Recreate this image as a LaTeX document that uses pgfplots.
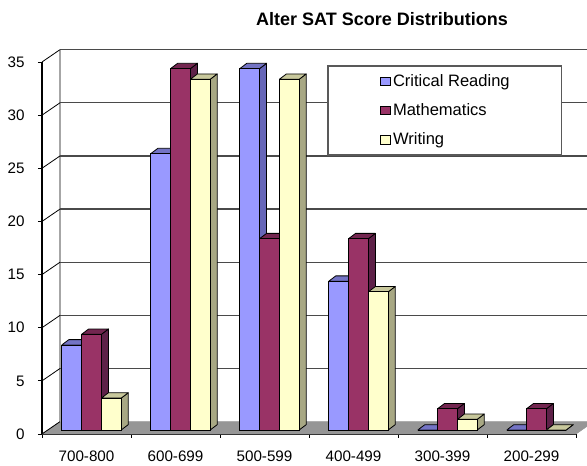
\documentclass[border=0pt]{standalone}
\usepackage{pgfplots}
\usepackage{pgfplotstable}
\pgfplotsset{compat=1.18}
\usepackage{fontspec}
\setmainfont{Liberation Sans}
\definecolor{cblue}{HTML}{9999FF}\definecolor{cblueT}{HTML}{7373C4}\definecolor{cblueS}{HTML}{6666B8}
\definecolor{cmath}{HTML}{993366}\definecolor{cmathT}{HTML}{732650}\definecolor{cmathS}{HTML}{5E2148}
\definecolor{cwrit}{HTML}{FFFFCC}\definecolor{cwritT}{HTML}{C8C89C}\definecolor{cwritS}{HTML}{A8A884}
\definecolor{cfloor}{HTML}{969696}\definecolor{cgrid}{HTML}{4A4A4A}
\pgfplotstableread{
x crit math writ
0 8 9 3
1 26 34 33
2 34 18 33
3 14 18 13
4 0 2 1
5 0 2 0
}\scores
% side and top faces of one bar: centre x, value, side colour, top colour
\newcommand\depth[4]{%
  \pgfmathsetmacro\xa{#1-0.1112}\pgfmathsetmacro\xb{#1+0.1112}%
  \pgfmathsetmacro\xc{#1+0.1112+0.0787}\pgfmathsetmacro\xd{#1-0.1112+0.0787}%
  \pgfmathsetmacro\yt{#2+0.5}%
  \edef\dotmp{\noexpand\addplot[fill=#3,draw=black,line width=0.6pt,line join=round,forget plot] coordinates {(\xb,0) (\xc,0.5) (\xc,\yt) (\xb,#2) (\xb,0)};
  \noexpand\addplot[fill=#4,draw=black,line width=0.6pt,line join=round,forget plot] coordinates {(\xa,#2) (\xb,#2) (\xc,\yt) (\xd,\yt) (\xa,#2)};}%
  \dotmp}
\begin{document}
\begin{tikzpicture}[x=1pt,y=1pt]
\path[use as bounding box] (0,0) rectangle (440.25,349.5);
\clip (0,0) rectangle (440.25,349.5);
\begin{axis}[
  at={(31.5pt,24pt)},anchor=south west,
  scale only axis,width=400.5pt,height=279pt,
  xmin=-0.5,xmax=5.5,ymin=0,ymax=35,clip=false,
  axis lines=left,axis line style={-,black,line width=0.9pt},
  xtick={0,1,2,3,4,5},
  xticklabels={700-800,600-699,500-599,400-499,300-399,200-299},
  minor xtick={-0.5,0.5,1.5,2.5,3.5,4.5,5.5},
  ytick={0,5,10,15,20,25,30,35},
  tick align=outside,major tick length=3pt,minor tick length=3pt,
  major x tick style={draw=none},minor x tick style={black,line width=0.6pt},
  y tick style={black,line width=0.6pt},
  tick label style={font=\fontsize{11.4}{13}\selectfont},
  /pgf/number format/assume math mode=true,
  xticklabel style={yshift=-6.3pt},
  yticklabel style={xshift=-6.5pt},
  title={\fontsize{13.5}{16}\selectfont\bfseries Alter SAT Score Distributions},
  title style={at={(0.6367,1.094)},anchor=center},
]
\addplot[fill=cfloor,draw=cfloor,forget plot] coordinates {(-0.5,0) (-0.298,1.16) (5.7,1.16) (5.5,0) (-0.5,0)};
\addplot[color=gray!70,line width=0.9pt,forget plot] coordinates {(-0.298,1.16) (-0.298,36.16)};
\addplot[color=cgrid,line width=0.9pt,forget plot] coordinates {(-0.298,6.16) (5.7,6.16)};
\addplot[color=cgrid,line width=0.9pt,forget plot] coordinates {(-0.298,11.16) (5.7,11.16)};
\addplot[color=cgrid,line width=0.9pt,forget plot] coordinates {(-0.298,16.16) (5.7,16.16)};
\addplot[color=cgrid,line width=0.9pt,forget plot] coordinates {(-0.298,21.16) (5.7,21.16)};
\addplot[color=cgrid,line width=0.9pt,forget plot] coordinates {(-0.298,26.16) (5.7,26.16)};
\addplot[color=cgrid,line width=0.9pt,forget plot] coordinates {(-0.298,31.16) (5.7,31.16)};
\addplot[color=cgrid,line width=0.9pt,forget plot] coordinates {(-0.298,36.16) (5.7,36.16)};
\addplot[black,line width=0.6pt,forget plot] coordinates {(-0.5,5) (-0.298,6.16)};
\addplot[black,line width=0.6pt,forget plot] coordinates {(-0.5,10) (-0.298,11.16)};
\addplot[black,line width=0.6pt,forget plot] coordinates {(-0.5,15) (-0.298,16.16)};
\addplot[black,line width=0.6pt,forget plot] coordinates {(-0.5,20) (-0.298,21.16)};
\addplot[black,line width=0.6pt,forget plot] coordinates {(-0.5,25) (-0.298,26.16)};
\addplot[black,line width=0.6pt,forget plot] coordinates {(-0.5,30) (-0.298,31.16)};
\addplot[black,line width=0.6pt,forget plot] coordinates {(-0.5,35) (-0.298,36.16)};
\addplot[black,line width=0.6pt,forget plot] coordinates {(-0.5,0) (-0.298,1.16)};
\end{axis}
\fill[white,draw=black!65,line width=0.8pt] (246,233.25) rectangle (421.25,300);
\begin{axis}[
  at={(35.25pt,27pt)},anchor=south west,
  scale only axis,width=400.5pt,height=279pt,
  xmin=-0.5,xmax=5.5,ymin=0,ymax=35,clip=false,
  hide axis,
  legend style={at={(0.6235,0.964)},anchor=north west,draw=none,fill=none,
    font=\fontsize{12.4}{15}\selectfont,cells={anchor=west},
    /tikz/every even column/.style={column sep=2pt},row sep=7.4pt,inner sep=0pt},
  legend image code/.code={\draw[#1,line width=0.6pt] (0pt,-3.3pt) rectangle (7pt,3.3pt);},
]
\depth{-0.2225}{8}{cblueS}{cblueT}
\depth{0.7775}{26}{cblueS}{cblueT}
\depth{1.7775}{34}{cblueS}{cblueT}
\depth{2.7775}{14}{cblueS}{cblueT}
\depth{3.7775}{0}{cblueS}{cblueT}
\depth{4.7775}{0}{cblueS}{cblueT}
\addplot[ybar,bar width=14.85pt,bar shift=-14.85pt,fill=cblue,draw=black,line width=0.6pt] table[x=x,y=crit] {\scores};
\depth{0}{9}{cmathS}{cmathT}
\depth{1}{34}{cmathS}{cmathT}
\depth{2}{18}{cmathS}{cmathT}
\depth{3}{18}{cmathS}{cmathT}
\depth{4}{2}{cmathS}{cmathT}
\depth{5}{2}{cmathS}{cmathT}
\addplot[ybar,bar width=14.85pt,bar shift=0pt,fill=cmath,draw=black,line width=0.6pt] table[x=x,y=math] {\scores};
\depth{0.2225}{3}{cwritS}{cwritT}
\depth{1.2225}{33}{cwritS}{cwritT}
\depth{2.2225}{33}{cwritS}{cwritT}
\depth{3.2225}{13}{cwritS}{cwritT}
\depth{4.2225}{1}{cwritS}{cwritT}
\depth{5.2225}{0}{cwritS}{cwritT}
\addplot[ybar,bar width=14.85pt,bar shift=14.85pt,fill=cwrit,draw=black,line width=0.6pt] table[x=x,y=writ] {\scores};
\legend{Critical Reading,Mathematics,Writing}
\end{axis}
\end{tikzpicture}
\end{document}
